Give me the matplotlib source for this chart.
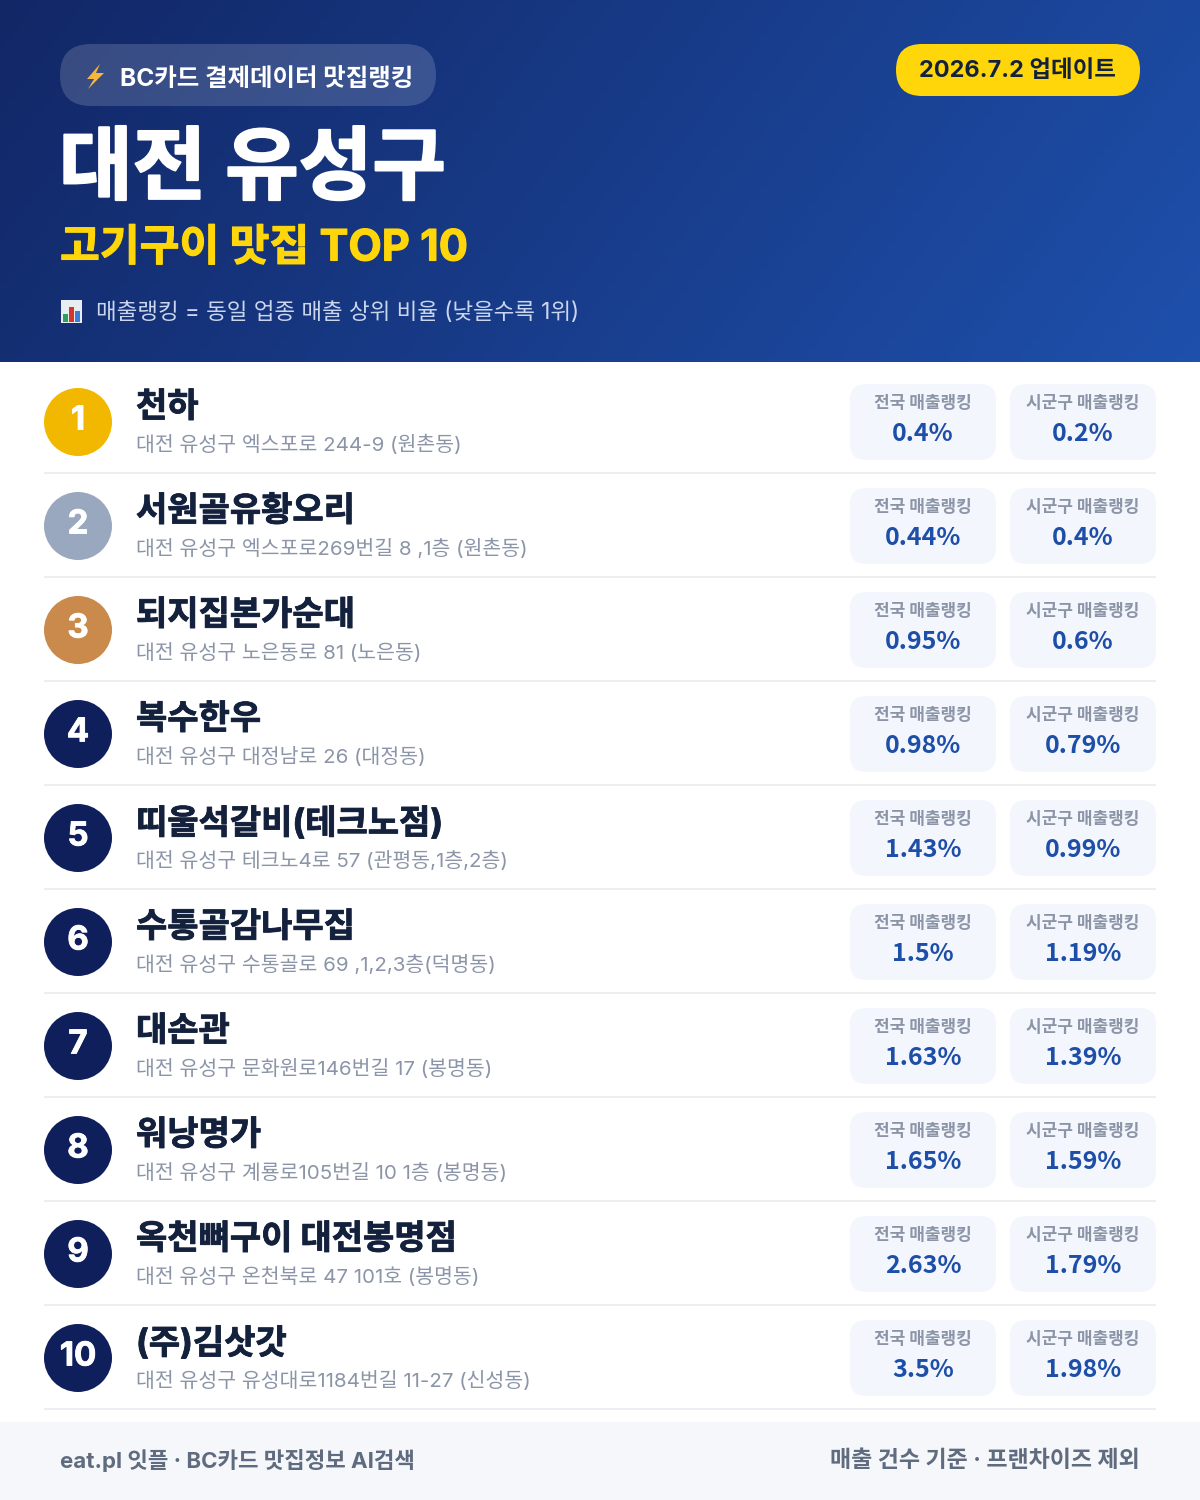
import numpy as np
import matplotlib
matplotlib.use("Agg")
import matplotlib.pyplot as plt
import matplotlib.patheffects as pe
from matplotlib.patches import Circle, FancyBboxPatch, Polygon, Rectangle

plt.rcParams['font.family'] = ['Inter', 'Noto Sans CJK KR', 'DejaVu Sans']

# data
names = ["천하", "서원골유황오리", "되지집본가순대", "복수한우", "띠울석갈비(테크노점)",
         "수통골감나무집", "대손관", "워낭명가", "옥천뼈구이 대전봉명점", "(주)김삿갓"]
addresses = ["대전 유성구 엑스포로 244-9 (원촌동)",
             "대전 유성구 엑스포로269번길 8 ,1층 (원촌동)",
             "대전 유성구 노은동로 81 (노은동)",
             "대전 유성구 대정남로 26 (대정동)",
             "대전 유성구 테크노4로 57 (관평동,1층,2층)",
             "대전 유성구 수통골로 69 ,1,2,3층(덕명동)",
             "대전 유성구 문화원로146번길 17 (봉명동)",
             "대전 유성구 계룡로105번길 10 1층 (봉명동)",
             "대전 유성구 온천북로 47 101호 (봉명동)",
             "대전 유성구 유성대로1184번길 11-27 (신성동)"]
national = ["0.4%", "0.44%", "0.95%", "0.98%", "1.43%", "1.5%", "1.63%", "1.65%", "2.63%", "3.5%"]
local = ["0.2%", "0.4%", "0.6%", "0.79%", "0.99%", "1.19%", "1.39%", "1.59%", "1.79%", "1.98%"]
rank_colors = ["#f2b800", "#9aa8bf", "#c98a4b"]
navy = "#0f1f5c"


def px(s):
    # font size given in pixels
    return s * 0.72


fig = plt.figure(figsize=(12, 15), dpi=100)
ax = fig.add_axes([0, 0, 1, 1])
ax.set_xlim(0, 1200)
ax.set_ylim(1500, 0)
ax.axis("off")

# header gradient
gx, gy = np.meshgrid(np.linspace(0, 1, 300), np.linspace(0, 1, 100))
t = (gx * 1200 * 0.8 + gy * 362 * 0.6) / (1200 * 0.8 + 362 * 0.6)
c0 = np.array([0x12, 0x27, 0x66]) / 255
c1 = np.array([0x1e, 0x50, 0xac]) / 255
grad = c0[None, None, :] + (c1 - c0)[None, None, :] * np.clip(t, 0, 1)[:, :, None]
ax.imshow(grad, extent=(0, 1200, 362, 0), aspect="auto", zorder=0)
ax.set_xlim(0, 1200)
ax.set_ylim(1500, 0)


def pill(x0, y0, x1, y1, r, color, z=1, alpha=None):
    p = FancyBboxPatch((x0 + r, y0 + r), x1 - x0 - 2 * r, y1 - y0 - 2 * r,
                       boxstyle=f"round,pad={r},rounding_size={r}",
                       fc=color, ec="none", zorder=z, alpha=alpha)
    ax.add_patch(p)


def txt(x, y, s, size, color, weight="bold", ha="left", heavy=0, family=None):
    t = ax.text(x, y, s, fontsize=px(size), color=color, fontweight=weight,
                ha=ha, va="center", zorder=5)
    if family:
        t.set_fontfamily(family)
    # fake a heavier weight than the font has
    if heavy:
        t.set_path_effects([pe.withStroke(linewidth=heavy, foreground=color)])
    return t


# top pills
pill(60, 44, 436, 106, 31, "#ffffff", alpha=0.16)
ax.add_patch(Polygon([(100, 64), (87, 79), (94, 79), (88, 89), (104, 73), (96, 73)],
                     fc="#f6b73c", ec="none", zorder=5))
txt(120, 79, "BC카드 결제데이터 맛집랭킹", 24.5, "#ffffff")
pill(896, 44, 1140, 96, 26, "#ffd60a")
txt(1017, 71, "2026.7.2 업데이트", 23.5, "#14213d", ha="center")

txt(59, 172, "대전 유성구", 80, "#ffffff", heavy=1.5)
txt(60, 249, "고기구이 맛집 TOP 10", 43.3, "#ffd60a", heavy=0.8)

# chart icon
ax.add_patch(Rectangle((61, 300), 21, 23, fc="#e8edf2", ec="none", zorder=4))
for bx, bh, bc in [(63, 8, "#2e9e5b"), (69, 15, "#d9342b"), (75, 11, "#3b7dd8")]:
    ax.add_patch(Rectangle((bx, 322 - bh), 4.5, bh, fc=bc, ec="none", zorder=5))
txt(96, 313, "매출랭킹 = 동일 업종 매출 상위 비율 (낮을수록 1위)", 22.5, "#c9d6ee", weight="normal")

# rows
row_top = 370
row_h = 104
for i in range(len(names)):
    y0 = row_top + i * row_h
    cy = y0 + 52
    col = rank_colors[i] if i < 3 else navy
    ax.add_patch(Circle((78, cy), 34, fc=col, ec="none", zorder=3))
    txt(78, cy - 1, str(i + 1), 33, "#ffffff", ha="center", heavy=0.6)
    txt(136, y0 + 38, names[i], 34, "#14213d", heavy=0.6)
    txt(136, y0 + 75, addresses[i], 20.5, "#8b95a7", weight="normal")
    for bx0, bx1, lab, val in [(850, 996, "전국 매출랭킹", national[i]),
                               (1010, 1156, "시군구 매출랭킹", local[i])]:
        pill(bx0, y0 + 14, bx1, y0 + 90, 16, "#f3f6fc")
        bc = (bx0 + bx1) / 2
        txt(bc, y0 + 33, lab, 17, "#8b95a7", ha="center")
        txt(bc, y0 + 64, val, 25, "#1e4fa8", ha="center", family=['Noto Sans CJK KR', 'DejaVu Sans'])
    ax.plot([44, 1156], [y0 + 103, y0 + 103], color="#eceef2", lw=1.5, zorder=2,
            solid_capstyle="butt")

# footer
ax.add_patch(Rectangle((0, 1422), 1200, 78, fc="#f5f7fb", ec="none", zorder=1))
txt(60, 1461, "eat.pl 잇플 · BC카드 맛집정보 AI검색", 22.3, "#5f6b7e")
txt(1140, 1461, "매출 건수 기준 · 프랜차이즈 제외", 23, "#5f6b7e", ha="right")

fig.savefig("out.png", dpi=100)
